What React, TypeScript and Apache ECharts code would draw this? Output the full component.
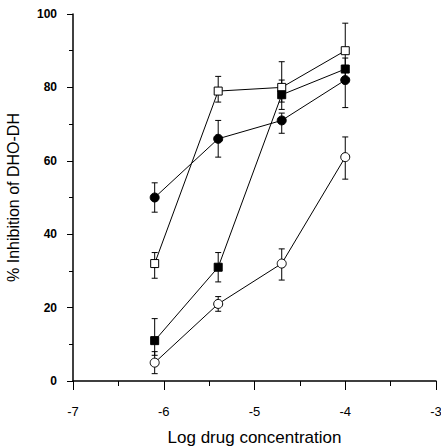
import React, { useEffect, useRef } from "react";
import * as echarts from "echarts";

const logConc = [-6.1, -5.4, -4.7, -4.0];

const filledCircle = [50, 66, 71, 82];
const filledCircleLow = [46, 61, 67.5, 74.5];
const filledCircleHigh = [54, 71, 73, 85];

const openSquare = [32, 79, 80, 90];
const openSquareLow = [28, 76, 76, 86];
const openSquareHigh = [35, 83, 87, 97.5];

const filledSquare = [11, 31, 78, 85];
const filledSquareLow = [7, 27, 74, 82];
const filledSquareHigh = [17, 35, 82, 88];

const openCircle = [5, 21, 32, 61];
const openCircleLow = [2, 19, 27.5, 55];
const openCircleHigh = [8, 23, 36, 66.5];

const xTicks = [-7, -6, -5, -4, -3];
const yTicks = [0, 20, 40, 60, 80, 100];

const FONT = "Liberation Sans, Arial, sans-serif";

function lineSeries(name: string, values: number[], symbol: string, filled: boolean) {
  return {
    name,
    type: "line",
    data: logConc.map((x, i) => [x, values[i]]),
    symbol,
    symbolSize: symbol === "rect" ? 8 : 9,
    lineStyle: { color: "#000", width: 1 },
    itemStyle: { color: filled ? "#000" : "#fff", borderColor: "#000", borderWidth: 1 },
    z: 3,
  };
}

function errSeries(low: number[], high: number[]) {
  return {
    type: "custom",
    data: logConc.map((x, i) => [x, low[i], high[i]]),
    renderItem: (params: any, api: any) => {
      const x = api.value(0);
      const lo = api.coord([x, api.value(1)]);
      const hi = api.coord([x, api.value(2)]);
      const cap = 3;
      const style = { stroke: "#000", lineWidth: 1 };
      return {
        type: "group",
        children: [
          { type: "line", shape: { x1: lo[0], y1: lo[1], x2: hi[0], y2: hi[1] }, style },
          { type: "line", shape: { x1: lo[0] - cap, y1: lo[1], x2: lo[0] + cap, y2: lo[1] }, style },
          { type: "line", shape: { x1: hi[0] - cap, y1: hi[1], x2: hi[0] + cap, y2: hi[1] }, style },
        ],
      };
    },
    z: 2,
    silent: true,
  };
}

export default function App() {
  const ref = useRef<HTMLDivElement>(null);
  useEffect(() => {
    const chart = echarts.init(ref.current!, null, { renderer: "svg" });
    chart.setOption({
      animation: false,
      backgroundColor: "#fff",
      grid: { left: 73, right: 5, top: 14, bottom: 67, containLabel: false, outerBoundsMode: "none" },
      xAxis: {
        type: "value",
        min: -7,
        max: -3,
        interval: 1,
        name: "Log drug concentration",
        nameLocation: "middle",
        nameGap: 48,
        nameTextStyle: { fontFamily: FONT, fontSize: 17, color: "#000" },
        axisLine: { show: true, lineStyle: { color: "#000", width: 1.5 } },
        axisTick: { show: true, length: 9, lineStyle: { color: "#000", width: 1 } },
        minorTick: { show: true, splitNumber: 2, length: 5, lineStyle: { color: "#000", width: 1 } },
        splitLine: { show: false },
        axisLabel: {
          fontFamily: FONT,
          fontSize: 13,
          color: "#000",
          margin: 24,
          formatter: (v: number) => (xTicks.includes(v) ? String(v) : ""),
        },
      },
      yAxis: {
        type: "value",
        min: 0,
        max: 100,
        interval: 20,
        name: "% Inhibition of DHO-DH",
        nameLocation: "middle",
        nameGap: 52,
        nameTextStyle: { fontFamily: FONT, fontSize: 16, color: "#000" },
        axisLine: { show: true, lineStyle: { color: "#000", width: 1.5 } },
        axisTick: { show: true, length: 6, lineStyle: { color: "#000", width: 1 } },
        minorTick: { show: true, splitNumber: 2, length: 4, lineStyle: { color: "#000", width: 1 } },
        splitLine: { show: false },
        axisLabel: {
          fontFamily: FONT,
          fontSize: 12,
          fontWeight: "bold",
          color: "#000",
          margin: 16,
          formatter: (v: number) => (yTicks.includes(v) ? String(v) : ""),
        },
      },
      series: [
        errSeries(filledCircleLow, filledCircleHigh),
        errSeries(openSquareLow, openSquareHigh),
        errSeries(filledSquareLow, filledSquareHigh),
        errSeries(openCircleLow, openCircleHigh),
        lineSeries("filled circle", filledCircle, "circle", true),
        lineSeries("open square", openSquare, "rect", false),
        lineSeries("filled square", filledSquare, "rect", true),
        lineSeries("open circle", openCircle, "circle", false),
      ],
    });
    return () => chart.dispose();
  }, []);
  return (
    <div
      ref={ref}
      style={{ position: "fixed", left: 0, top: 0, width: 441, height: 448, background: "#fff" }}
    />
  );
}
